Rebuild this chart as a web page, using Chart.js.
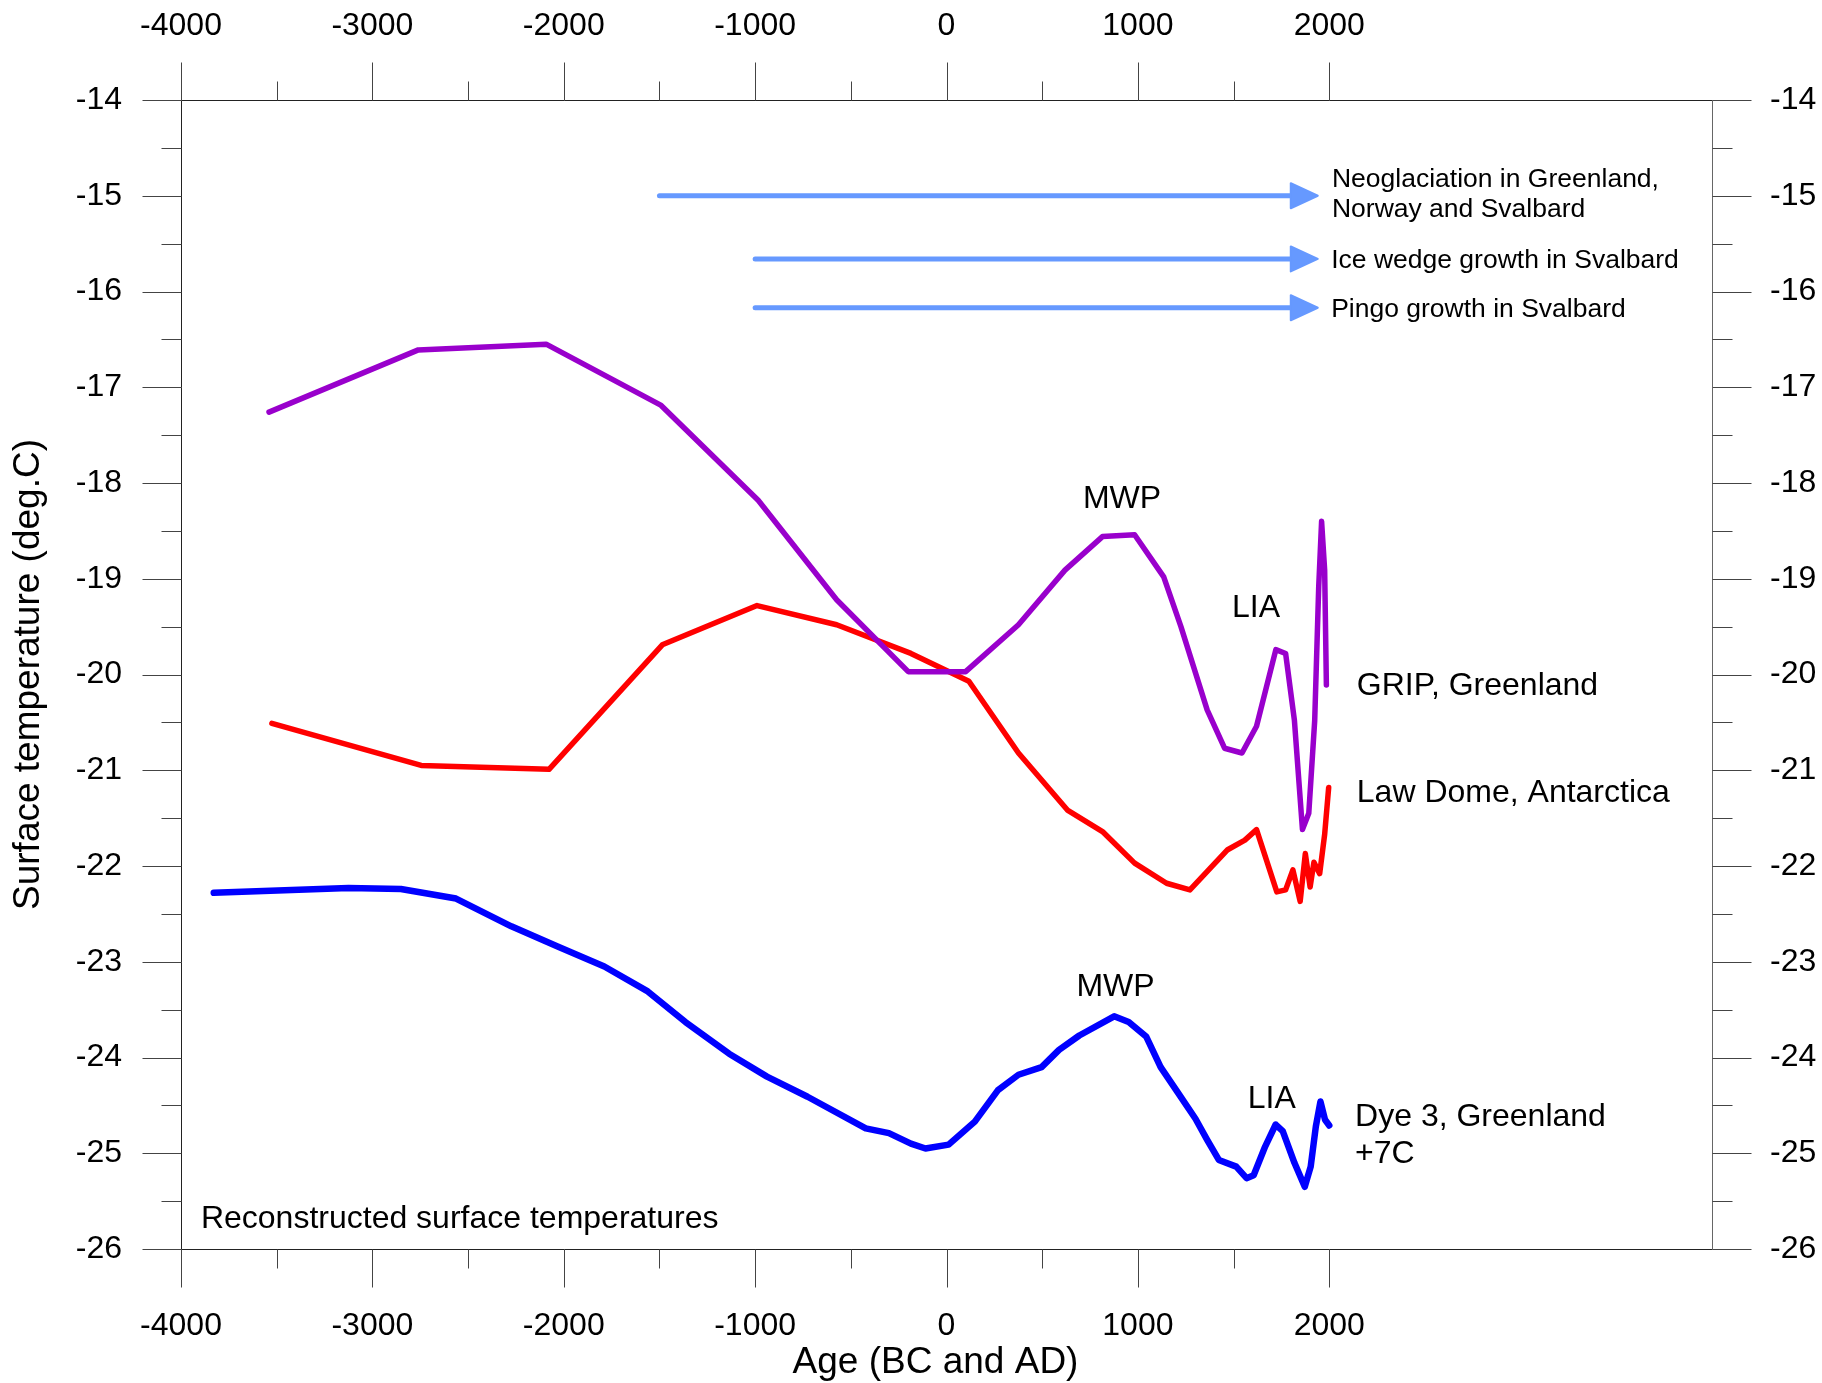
<!DOCTYPE html>
<html>
<head>
<meta charset="utf-8">
<title>Reconstructed surface temperatures</title>
<script src="https://cdn.jsdelivr.net/npm/chart.js@4.4.1/dist/chart.umd.min.js"></script>
<style>
  html, body { margin: 0; padding: 0; background: #ffffff; }
  canvas { display: block; }
</style>
</head>
<body>
<canvas id="chart" width="1822" height="1383"></canvas>
<script>
// ---- Axis ticks ----------------------------------------------------------
const xTickValues  = [-4000, -3000, -2000, -1000, 0, 1000, 2000];
const xMinorValues = [-3500, -2500, -1500, -500, 500, 1500];
const yTickValues  = [-14, -15, -16, -17, -18, -19, -20, -21, -22, -23, -24, -25, -26];
const yMinorValues = [-14.5, -15.5, -16.5, -17.5, -18.5, -19.5, -20.5, -21.5, -22.5, -23.5, -24.5, -25.5];

// ---- GRIP, Greenland (borehole reconstruction) ---------------------------
const gripYear = [-3540, -2760, -2092, -1491, -984, -574, -200, 100, 376, 619, 815, 983, 1135, 1225,
                  1362, 1453, 1544, 1620, 1721, 1772, 1818, 1860, 1893, 1924, 1945, 1960, 1976, 1985];
const gripTemp = [-17.26, -16.61, -16.55, -17.19, -18.18, -19.22, -19.97, -19.97, -19.48, -18.91, -18.56, -18.54, -18.98, -19.50,
                  -20.37, -20.77, -20.82, -20.54, -19.74, -19.78, -20.48, -21.62, -21.45, -20.48, -19.08, -18.40, -18.91, -20.11];

// ---- Law Dome, Antarctica ------------------------------------------------
const lawYear = [-3525, -2745, -2077, -1485, -990, -574, -186, 117, 376, 634, 815, 983, 1150, 1272,
                 1469, 1559, 1620, 1726, 1772, 1810, 1848, 1875, 1900, 1920, 1950, 1976, 1997];
const lawTemp = [-20.51, -20.95, -20.99, -19.69, -19.28, -19.48, -19.78, -20.07, -20.82, -21.42, -21.64, -21.97, -22.18, -22.25,
                 -21.83, -21.73, -21.62, -22.27, -22.25, -22.04, -22.37, -21.87, -22.22, -21.96, -22.08, -21.67, -21.18];

// ---- Dye 3, Greenland (shifted +7 C) -------------------------------------
const dyeYear = [-3829, -3125, -2851, -2563, -2274, -2032, -1788, -1561, -1364, -1136, -938, -726, -422, -301,
                 -186, -110, 11, 148, 269, 376, 497, 588, 694, 876, 952, 1043, 1119, 1210, 1301, 1362,
                 1423, 1514, 1568, 1605, 1665, 1720, 1757, 1818, 1872, 1903, 1930, 1954, 1978, 2000];
const dyeTemp = [-22.28, -22.23, -22.24, -22.34, -22.63, -22.84, -23.05, -23.31, -23.63, -23.96, -24.20, -24.41, -24.74, -24.79,
                 -24.90, -24.95, -24.91, -24.67, -24.34, -24.18, -24.10, -23.92, -23.77, -23.57, -23.63, -23.78, -24.10, -24.37, -24.64, -24.86,
                 -25.07, -25.14, -25.26, -25.23, -24.93, -24.70, -24.77, -25.10, -25.35, -25.14, -24.72, -24.46, -24.65, -24.71];

// ---- Cold-climate indicators: onset year, end year, drawn at level --------
const arrowStart = [-1500, -1000, -1000];
const arrowEnd   = [1940, 1940, 1940];
const arrowLevel = [-15.0, -15.66, -16.17];

// ---- Text notes, anchored in data coordinates (year, deg.C) ---------------
const notes = [
  { text: 'Neoglaciation in Greenland,', x: 2014, y: -14.91, size: 26.5, align: 'left' },
  { text: 'Norway and Svalbard',         x: 2014, y: -15.22, size: 26.5, align: 'left' },
  { text: 'Ice wedge growth in Svalbard', x: 2010, y: -15.75, size: 26.5, align: 'left' },
  { text: 'Pingo growth in Svalbard',    x: 2010, y: -16.27, size: 26.5, align: 'left' },
  { text: 'MWP',                x: 917,  y: -18.26, size: 32, align: 'center' },
  { text: 'LIA',                x: 1617, y: -19.40, size: 32, align: 'center' },
  { text: 'GRIP, Greenland',    x: 2144, y: -20.21, size: 32, align: 'left' },
  { text: 'Law Dome, Antarctica', x: 2144, y: -21.33, size: 32, align: 'left' },
  { text: 'MWP',                x: 883,  y: -23.36, size: 32, align: 'center' },
  { text: 'LIA',                x: 1700, y: -24.53, size: 32, align: 'center' },
  { text: 'Dye 3, Greenland',   x: 2135, y: -24.72, size: 32, align: 'left' },
  { text: '+7C',                x: 2135, y: -25.10, size: 32, align: 'left' },
  { text: 'Reconstructed surface temperatures', x: -3896, y: -25.78, size: 32, align: 'left' }
];

const FONT = "'Liberation Sans', Arial, Helvetica, sans-serif";
Chart.defaults.font.family = FONT;
Chart.defaults.color = '#000000';

const toPoints = (xs, ys) => xs.map((v, i) => ({ x: v, y: ys[i] }));

// White page, frame with outward ticks, arrows, text notes and the age title
const decorations = {
  id: 'decorations',
  beforeDraw(chart) {
    const ctx = chart.ctx;
    ctx.save();
    ctx.fillStyle = '#ffffff';
    ctx.fillRect(0, 0, chart.width, chart.height);
    ctx.restore();
  },
  afterDatasetsDraw(chart) {
    const { ctx, chartArea: a } = chart;
    const x = chart.scales.x, y = chart.scales.y;
    const L = Math.round(a.left) + 0.5, R = Math.round(a.right) + 0.5;
    const T = Math.round(a.top) + 0.5, B = Math.round(a.bottom) + 0.5;

    ctx.save();
    ctx.lineWidth = 1;

    // frame
    ctx.strokeStyle = '#222222';
    ctx.beginPath();
    ctx.moveTo(L, T); ctx.lineTo(R, T);
    ctx.moveTo(L, T); ctx.lineTo(L, B);
    ctx.moveTo(L, B); ctx.lineTo(R, B);
    ctx.stroke();
    ctx.strokeStyle = '#666666';
    ctx.beginPath();
    ctx.moveTo(R, T); ctx.lineTo(R, B);
    ctx.stroke();

    // x ticks, top and bottom
    ctx.strokeStyle = '#444444';
    ctx.beginPath();
    const xt = (vals, len) => vals.forEach(v => {
      const px = Math.round(x.getPixelForValue(v)) + 0.5;
      ctx.moveTo(px, T); ctx.lineTo(px, T - len);
      ctx.moveTo(px, B); ctx.lineTo(px, B + len);
    });
    xt(xTickValues, 38);
    xt(xMinorValues, 19);
    // y ticks, left and right
    const yt = (vals, len) => vals.forEach(v => {
      const py = Math.round(y.getPixelForValue(v)) + 0.5;
      ctx.moveTo(L, py); ctx.lineTo(L - len, py);
      ctx.moveTo(R, py); ctx.lineTo(R + len, py);
    });
    yt(yTickValues, 39);
    yt(yMinorValues, 20);
    ctx.stroke();

    // indicator arrows
    ctx.strokeStyle = 'rgb(102,153,255)';
    ctx.fillStyle = 'rgb(102,153,255)';
    ctx.lineCap = 'round';
    ctx.lineJoin = 'round';
    arrowStart.forEach((s, i) => {
      const x0 = x.getPixelForValue(s);
      const x1 = x.getPixelForValue(arrowEnd[i]);
      const py = y.getPixelForValue(arrowLevel[i]);
      const head = 27, half = 12.5;
      ctx.lineWidth = 5;
      ctx.beginPath();
      ctx.moveTo(x0, py);
      ctx.lineTo(x1 - head + 2, py);
      ctx.stroke();
      ctx.lineWidth = 2;
      ctx.beginPath();
      ctx.moveTo(x1, py);
      ctx.lineTo(x1 - head, py - half);
      ctx.lineTo(x1 - head, py + half);
      ctx.closePath();
      ctx.fill();
      ctx.stroke();
    });

    // text notes
    ctx.fillStyle = '#000000';
    ctx.textBaseline = 'alphabetic';
    notes.forEach(n => {
      ctx.font = n.size + 'px ' + FONT;
      ctx.textAlign = n.align;
      ctx.fillText(n.text, x.getPixelForValue(n.x), y.getPixelForValue(n.y));
    });

    // age axis title, set just left of the plot centre
    ctx.font = '37px ' + FONT;
    ctx.textAlign = 'center';
    ctx.textBaseline = 'middle';
    ctx.fillText('Age (BC and AD)', (a.left + a.right) / 2 - 11, 1363);
    ctx.restore();
  }
};

const xLabel = v => (xTickValues.includes(v) ? String(v) : '');
const yLabel = v => String(v);

const baseX = {
  type: 'linear', min: -4000, max: 4000,
  grid: { display: false, drawTicks: false },
  border: { display: false },
  ticks: { stepSize: 1000, autoSkip: false, maxRotation: 0, minRotation: 0,
           color: '#000000', font: { size: 32 }, callback: xLabel }
};
const baseY = {
  type: 'linear', min: -26, max: -14,
  grid: { display: false, drawTicks: false },
  border: { display: false },
  ticks: { stepSize: 1, autoSkip: false, color: '#000000', font: { size: 32 }, callback: yLabel }
};

new Chart(document.getElementById('chart'), {
  type: 'line',
  data: {
    datasets: [
      { label: 'GRIP, Greenland', data: toPoints(gripYear, gripTemp),
        borderColor: 'rgb(153,0,204)', borderWidth: 5.5, order: 0 },
      { label: 'Law Dome, Antarctica', data: toPoints(lawYear, lawTemp),
        borderColor: 'rgb(255,0,0)', borderWidth: 5.5, order: 1 },
      { label: 'Dye 3, Greenland +7C', data: toPoints(dyeYear, dyeTemp),
        borderColor: 'rgb(0,0,255)', borderWidth: 6.5, order: 2 }
    ].map(d => Object.assign(d, {
      pointRadius: 0, pointHoverRadius: 0, tension: 0, fill: false,
      borderJoinStyle: 'round', borderCapStyle: 'round', xAxisID: 'x', yAxisID: 'y'
    }))
  },
  options: {
    responsive: false,
    animation: false,
    devicePixelRatio: 1,
    layout: { padding: 0 },
    events: [],
    plugins: { legend: { display: false }, tooltip: { enabled: false } },
    scales: {
      x: Object.assign({}, baseX, {
        position: 'bottom',
        ticks: Object.assign({}, baseX.ticks, { padding: 58 }),
        afterFit: s => { s.height = 134; }
      }),
      x2: Object.assign({}, baseX, {
        position: 'top',
        ticks: Object.assign({}, baseX.ticks, { padding: 55 }),
        afterFit: s => { s.height = 100; }
      }),
      y: Object.assign({}, baseY, {
        position: 'left',
        ticks: Object.assign({}, baseY.ticks, { padding: 59 }),
        afterFit: s => { s.width = 181; },
        title: { display: true, text: 'Surface temperature (deg.C)', color: '#000000',
                 font: { size: 37 }, padding: { top: 7, bottom: 0 } }
      }),
      y2: Object.assign({}, baseY, {
        position: 'right',
        ticks: Object.assign({}, baseY.ticks, { padding: 58 }),
        afterFit: s => { s.width = 110; }
      })
    }
  },
  plugins: [decorations]
});
</script>
</body>
</html>
